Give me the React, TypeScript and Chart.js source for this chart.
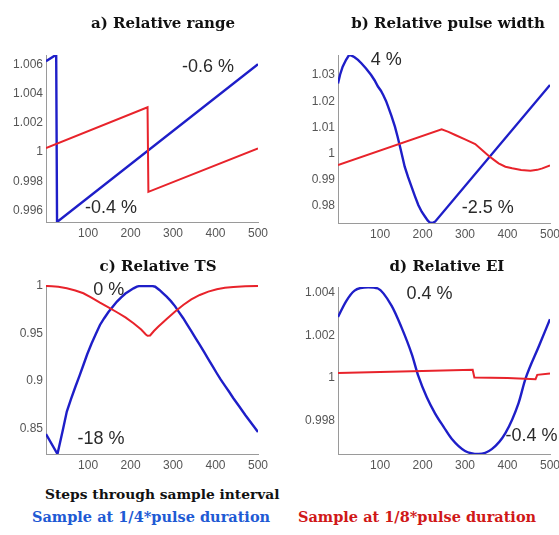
import React, { useEffect, useRef } from "react";
import { Chart, registerables } from "chart.js";

Chart.register(...registerables);

// ---------- data ----------
const X_TICKS = [100, 200, 300, 400, 500];

// a) Relative range
const A_BLUE_X = [1, 25, 27, 500];
const A_BLUE_Y = [1.0062, 1.00665, 0.99522, 1.006];
const A_RED_X = [1, 240, 242, 500];
const A_RED_Y = [1.00027, 1.00306, 0.99728, 1.00025];
const A_Y_TICKS = [0.996, 0.998, 1, 1.002, 1.004, 1.006];

// b) Relative pulse width
const B_BLUE_X = [1, 6, 12, 20, 27, 33, 40, 48, 56, 67, 79, 87, 95, 102, 108, 114, 119, 127, 135, 141, 147, 152, 158, 166, 174, 182, 190, 198, 206, 212, 217, 222, 226, 230, 500];
const B_BLUE_Y = [1.0268, 1.0302, 1.0332, 1.0358, 1.0376, 1.0374, 1.0368, 1.0358, 1.0345, 1.0325, 1.03, 1.028, 1.0256, 1.024, 1.0222, 1.0201, 1.0179, 1.0143, 1.0103, 1.0066, 1.0026, 0.9992, 0.995, 0.991, 0.9874, 0.9838, 0.9804, 0.9778, 0.9759, 0.9745, 0.9737, 0.9735, 0.9737, 0.9741, 1.0262];
const B_RED_X = [1, 245, 261, 277, 300, 324, 340, 356, 368, 379, 395, 411, 432, 454, 470, 482, 500];
const B_RED_Y = [0.99565, 1.00927, 1.0083, 1.0071, 1.0054, 1.00366, 1.00137, 0.99908, 0.9976, 0.99628, 0.995, 0.99437, 0.9937, 0.99346, 0.9938, 0.99437, 0.9955];
const B_Y_TICKS = [0.98, 0.99, 1, 1.01, 1.02, 1.03];

// c) Relative TS
const C_BLUE_X = [1, 28, 40, 50, 60, 70, 80, 89, 98, 108, 118, 128, 138, 148, 158, 168, 178, 188, 198, 207, 215, 222, 250, 258, 268, 276, 285, 295, 305, 314, 324, 333, 343, 353, 363, 373, 383, 393, 403, 412, 422, 432, 442, 456, 470, 485, 500];
const C_BLUE_Y = [0.844, 0.8229, 0.847, 0.8676, 0.881, 0.8935, 0.9055, 0.9167, 0.928, 0.939, 0.949, 0.9589, 0.966, 0.9725, 0.978, 0.9835, 0.988, 0.992, 0.995, 0.9975, 0.9993, 1.0, 1.0, 0.9992, 0.9958, 0.9925, 0.9888, 0.984, 0.9785, 0.9725, 0.966, 0.9595, 0.9525, 0.945, 0.9378, 0.9305, 0.923, 0.9155, 0.908, 0.9015, 0.895, 0.8885, 0.8817, 0.873, 0.864, 0.855, 0.846];
const C_RED_X = [1, 15, 30, 50, 70, 89, 108, 128, 148, 168, 188, 207, 225, 236, 240, 246, 255, 265, 285, 305, 324, 343, 363, 383, 403, 422, 442, 470, 500];
const C_RED_Y = [1.0, 0.9998, 0.9992, 0.9975, 0.9952, 0.9923, 0.9878, 0.9824, 0.9775, 0.9723, 0.9668, 0.9607, 0.954, 0.9488, 0.9475, 0.9478, 0.9525, 0.957, 0.9652, 0.973, 0.98, 0.9858, 0.9905, 0.994, 0.9965, 0.998, 0.9989, 0.9997, 1.0];
const C_Y_TICKS = [0.85, 0.9, 0.95, 1];

// d) Relative EI
const D_BLUE_X = [1, 20, 40, 72, 95, 127, 150, 175, 190, 210, 229, 250, 269, 300, 332, 363, 395, 426, 442, 474, 500];
const D_BLUE_Y = [1.00286, 1.0036, 1.0041, 1.00426, 1.0042, 1.0034, 1.0024, 1.0011, 1.0001, 0.9991, 0.99836, 0.9977, 0.99714, 0.99658, 0.99644, 0.99667, 0.99742, 0.99883, 0.99995, 1.0015, 1.00276];
const D_RED_X = [1, 100, 200, 318, 322, 400, 466, 470, 500];
const D_RED_Y = [1.00024, 1.00029, 1.00033, 1.00039, 1.00003, 1.0, 0.99995, 1.00015, 1.00022];
const D_Y_TICKS = [0.998, 1, 1.002, 1.004];

const A_NOTES = [
  { text: "-0.6 %", x: 321, y: 1.00582 },
  { text: "-0.4 %", x: 93, y: 0.9962 },
];
const B_NOTES = [
  { text: "4 %", x: 78, y: 1.03584 },
  { text: "-2.5 %", x: 292, y: 0.97931 },
];
const C_NOTES = [
  { text: "0 %", x: 112, y: 0.99578 },
  { text: "-18 %", x: 75, y: 0.83893 },
];
const D_NOTES = [
  { text: "0.4 %", x: 162, y: 1.00394 },
  { text: "-0.4 %", x: 395, y: 0.99728 },
];

const TITLES = ["a) Relative range", "b) Relative pulse width", "c) Relative TS", "d) Relative EI"];
const X_LABEL = "Steps through sample interval";
const BLUE_LABEL = "Sample at 1/4*pulse duration";
const RED_LABEL = "Sample at 1/8*pulse duration";

const BLUE = "#1e1ec8";
const RED = "#e8232b";

type Note = { text: string; x: number; y: number };

type PanelProps = {
  left: number;
  top: number;
  w: number;
  h: number;
  plot: { l: number; t: number; r: number; b: number };
  blueX: number[];
  blueY: number[];
  redX: number[];
  redY: number[];
  yMin: number;
  yMax: number;
  yTicks: number[];
  notes: Note[];
  smoothBlue?: boolean;
};

function zip(xs: number[], ys: number[]) {
  return xs.map((x, i) => ({ x, y: ys[i] }));
}

function Panel(p: PanelProps) {
  const ref = useRef<HTMLCanvasElement | null>(null);
  useEffect(() => {
    if (!ref.current) return;
    const yw = p.plot.l - p.left;
    const xh = p.top + p.h - p.plot.b;
    const notesPlugin = {
      id: "notes",
      afterDraw(chart: any) {
        const ctx = chart.ctx;
        ctx.save();
        ctx.font = '18px "Liberation Sans", Arial, sans-serif';
        ctx.fillStyle = "#2a2a2a";
        ctx.textAlign = "left";
        ctx.textBaseline = "middle";
        for (const n of p.notes) {
          const px = chart.scales.x.getPixelForValue(n.x);
          const py = chart.scales.y.getPixelForValue(n.y);
          ctx.fillText(n.text, px, py);
        }
        ctx.restore();
      },
    };
    const tickFont = { family: '"Liberation Sans", Arial, sans-serif', size: 12 };
    const blueSet: any = {
      data: zip(p.blueX, p.blueY),
      borderColor: BLUE,
      borderWidth: 2.4,
      pointRadius: 0,
      tension: 0,
      fill: false,
    };
    if (p.smoothBlue) blueSet.cubicInterpolationMode = "monotone";
    const chart = new Chart(ref.current, {
      type: "line",
      data: {
        datasets: [
          {
            data: zip(p.redX, p.redY),
            borderColor: RED,
            borderWidth: 2,
            pointRadius: 0,
            tension: 0,
            fill: false,
          },
          blueSet,
        ],
      },
      options: {
        animation: false,
        responsive: false,
        devicePixelRatio: 1,
        events: [],
        layout: {
          autoPadding: false,
          padding: {
            left: 0,
            top: p.plot.t - p.top,
            right: p.left + p.w - p.plot.r,
            bottom: 0,
          },
        },
        plugins: {
          legend: { display: false },
          title: { display: false },
          tooltip: { enabled: false },
        },
        scales: {
          x: {
            type: "linear",
            min: 1,
            max: 500,
            afterBuildTicks: (s: any) => {
              s.ticks = X_TICKS.map((v) => ({ value: v }));
            },
            afterFit: (s: any) => {
              s.height = xh;
            },
            grid: { display: false, drawTicks: false },
            border: { display: true, color: "#9a9a9a", width: 1 },
            ticks: {
              font: tickFont,
              color: "#555",
              padding: 4,
              maxRotation: 0,
              autoSkip: false,
              callback: (v: any) => String(v),
            },
          },
          y: {
            type: "linear",
            min: p.yMin,
            max: p.yMax,
            afterBuildTicks: (s: any) => {
              s.ticks = p.yTicks.map((v) => ({ value: v }));
            },
            afterFit: (s: any) => {
              s.width = yw;
            },
            grid: { display: false, drawTicks: false },
            border: { display: true, color: "#9a9a9a", width: 1 },
            ticks: {
              font: tickFont,
              color: "#555",
              padding: 3,
              autoSkip: false,
              callback: (v: any) => String(Number(Number(v).toFixed(4))),
            },
          },
        },
      },
      plugins: [notesPlugin],
    } as any);
    return () => chart.destroy();
  }, []);
  return (
    <canvas
      ref={ref}
      width={p.w}
      height={p.h}
      style={{ position: "absolute", left: p.left, top: p.top, width: p.w, height: p.h, display: "block" }}
    />
  );
}

const serifBold: React.CSSProperties = {
  position: "absolute",
  fontFamily: '"DejaVu Serif", serif',
  fontWeight: "bold",
  fontSize: 15,
  lineHeight: "15px",
  whiteSpace: "nowrap",
  margin: 0,
};

export default function App() {
  return (
    <div
      style={{
        position: "absolute",
        left: 0,
        top: 0,
        width: 559,
        height: 535,
        overflow: "hidden",
        background: "#fff",
      }}
    >
      <Panel
        left={0}
        top={0}
        w={280}
        h={250}
        plot={{ l: 46, t: 55, r: 258, b: 222 }}
        blueX={A_BLUE_X}
        blueY={A_BLUE_Y}
        redX={A_RED_X}
        redY={A_RED_Y}
        yMin={0.99522}
        yMax={1.00663}
        yTicks={A_Y_TICKS}
        notes={A_NOTES}
      />
      <Panel
        left={280}
        top={0}
        w={290}
        h={250}
        plot={{ l: 338, t: 55, r: 550, b: 223 }}
        blueX={B_BLUE_X}
        blueY={B_BLUE_Y}
        redX={B_RED_X}
        redY={B_RED_Y}
        yMin={0.97351}
        yMax={1.03763}
        yTicks={B_Y_TICKS}
        notes={B_NOTES}
      />
      <Panel
        left={0}
        top={250}
        w={280}
        h={230}
        plot={{ l: 46, t: 285, r: 258, b: 454 }}
        blueX={C_BLUE_X}
        blueY={C_BLUE_Y}
        redX={C_RED_X}
        redY={C_RED_Y}
        yMin={0.82292}
        yMax={1.001}
        yTicks={C_Y_TICKS}
        notes={C_NOTES}
      />
      <Panel
        left={280}
        top={250}
        w={290}
        h={230}
        plot={{ l: 338, t: 287, r: 550, b: 454 }}
        blueX={D_BLUE_X}
        blueY={D_BLUE_Y}
        redX={D_RED_X}
        redY={D_RED_Y}
        yMin={0.99644}
        yMax={1.00427}
        yTicks={D_Y_TICKS}
        notes={D_NOTES}
        smoothBlue
      />
      <div style={{ ...serifBold, left: 13, width: 300, textAlign: "center", top: 16, color: "#111" }}>{TITLES[0]}</div>
      <div style={{ ...serifBold, left: 298, width: 300, textAlign: "center", top: 16, color: "#111" }}>{TITLES[1]}</div>
      <div style={{ ...serifBold, left: 8, width: 300, textAlign: "center", top: 259, color: "#111" }}>{TITLES[2]}</div>
      <div style={{ ...serifBold, left: 297, width: 300, textAlign: "center", top: 259, color: "#111" }}>{TITLES[3]}</div>
      <div style={{ ...serifBold, fontSize: 13.8, left: 45, top: 487, color: "#111" }}>{X_LABEL}</div>
      <div style={{ ...serifBold, fontSize: 14.5, left: 32, top: 509, color: "#1e5ad4" }}>{BLUE_LABEL}</div>
      <div style={{ ...serifBold, fontSize: 14.5, left: 298, top: 509, color: "#d01818" }}>{RED_LABEL}</div>
    </div>
  );
}
